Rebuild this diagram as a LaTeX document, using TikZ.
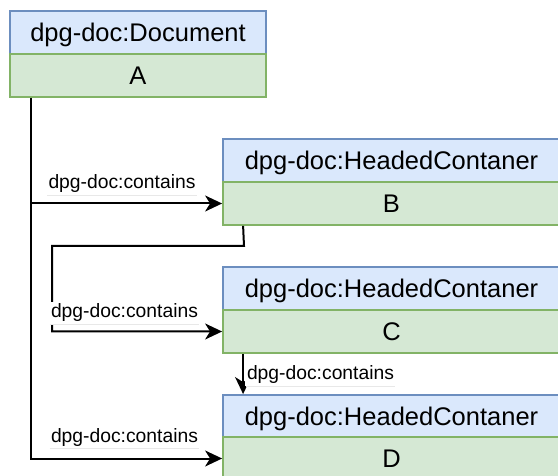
\documentclass[tikz,border=0pt]{standalone}
\usepackage{fontspec}
\setmainfont{Liberation Sans}
\usetikzlibrary{arrows.meta}
\definecolor{hdfill}{HTML}{DAE8FC}
\definecolor{hdline}{HTML}{6C8EBF}
\definecolor{bdfill}{HTML}{D5E8D4}
\definecolor{bdline}{HTML}{82B366}
\definecolor{rulegray}{HTML}{E8E8E8}
\tikzset{
  boxbase/.style={rectangle, line width=1.8pt, inner sep=0pt, text height=18pt, text depth=0pt,
    font=\fontsize{25.5}{30}\selectfont},
  hd/.style={boxbase, draw=hdline, fill=hdfill},
  bd/.style={boxbase, draw=bdline, fill=bdfill},
  conn/.style={line width=2pt, -{Stealth[length=17pt,width=16pt,inset=5pt]}},
  lbl/.style={fill=white, inner sep=2pt, text height=14pt, text depth=4pt,
    font=\fontsize{19.3}{23}\selectfont},
  lblrule/.style={draw=rulegray, line width=1pt}
}
\begin{document}
\begin{tikzpicture}[x=1pt,y=-1pt]
\useasboundingbox[fill=white] (0,0) rectangle (558,476);
% boxes
\node[hd, minimum width=256pt, minimum height=43pt] (Ah) at (138,32.5) {dpg-doc:Document};
\node[bd, minimum width=256pt, minimum height=43pt] (Ab) at (138,75.5) {A};
\node[hd, minimum width=337pt, minimum height=43pt] (Bh) at (391.5,160.5) {dpg-doc:HeadedContaner};
\node[bd, minimum width=337pt, minimum height=43pt] (Bb) at (391.5,203.5) {B};
\node[hd, minimum width=337pt, minimum height=43pt] (Ch) at (391.5,288.5) {dpg-doc:HeadedContaner};
\node[bd, minimum width=337pt, minimum height=43pt] (Cb) at (391.5,331.5) {C};
\node[hd, minimum width=337pt, minimum height=42pt] (Dh) at (391.5,416) {dpg-doc:HeadedContaner};
\node[bd, minimum width=337pt, minimum height=43pt] (Db) at (391.5,458.5) {D};
% connectors
\draw[conn] ([xshift=22pt]Ab.south west) |- (Bb.west);
\draw[conn] ([xshift=22pt]Ab.south west) |- (Db.west);
\draw[conn] ([xshift=21pt]Bb.south west) -- (244,246) -- (52,246) |- (Cb.west);
\draw[conn] ([xshift=21pt]Cb.south west) -- ([xshift=21pt]Dh.north west);
% labels
\node[lbl] (L1) at (122,184) {dpg-doc:contains};
\node[lbl] (L2) at (124.5,313) {dpg-doc:contains};
\node[lbl] (L3) at (320.5,375) {dpg-doc:contains};
\node[lbl] (L4) at (124.5,437.5) {dpg-doc:contains};
\foreach \l in {L1,L2,L3,L4}
  \draw[lblrule] ([xshift=1pt]\l.south west) -- ([xshift=-1pt]\l.south east);
\end{tikzpicture}
\end{document}
